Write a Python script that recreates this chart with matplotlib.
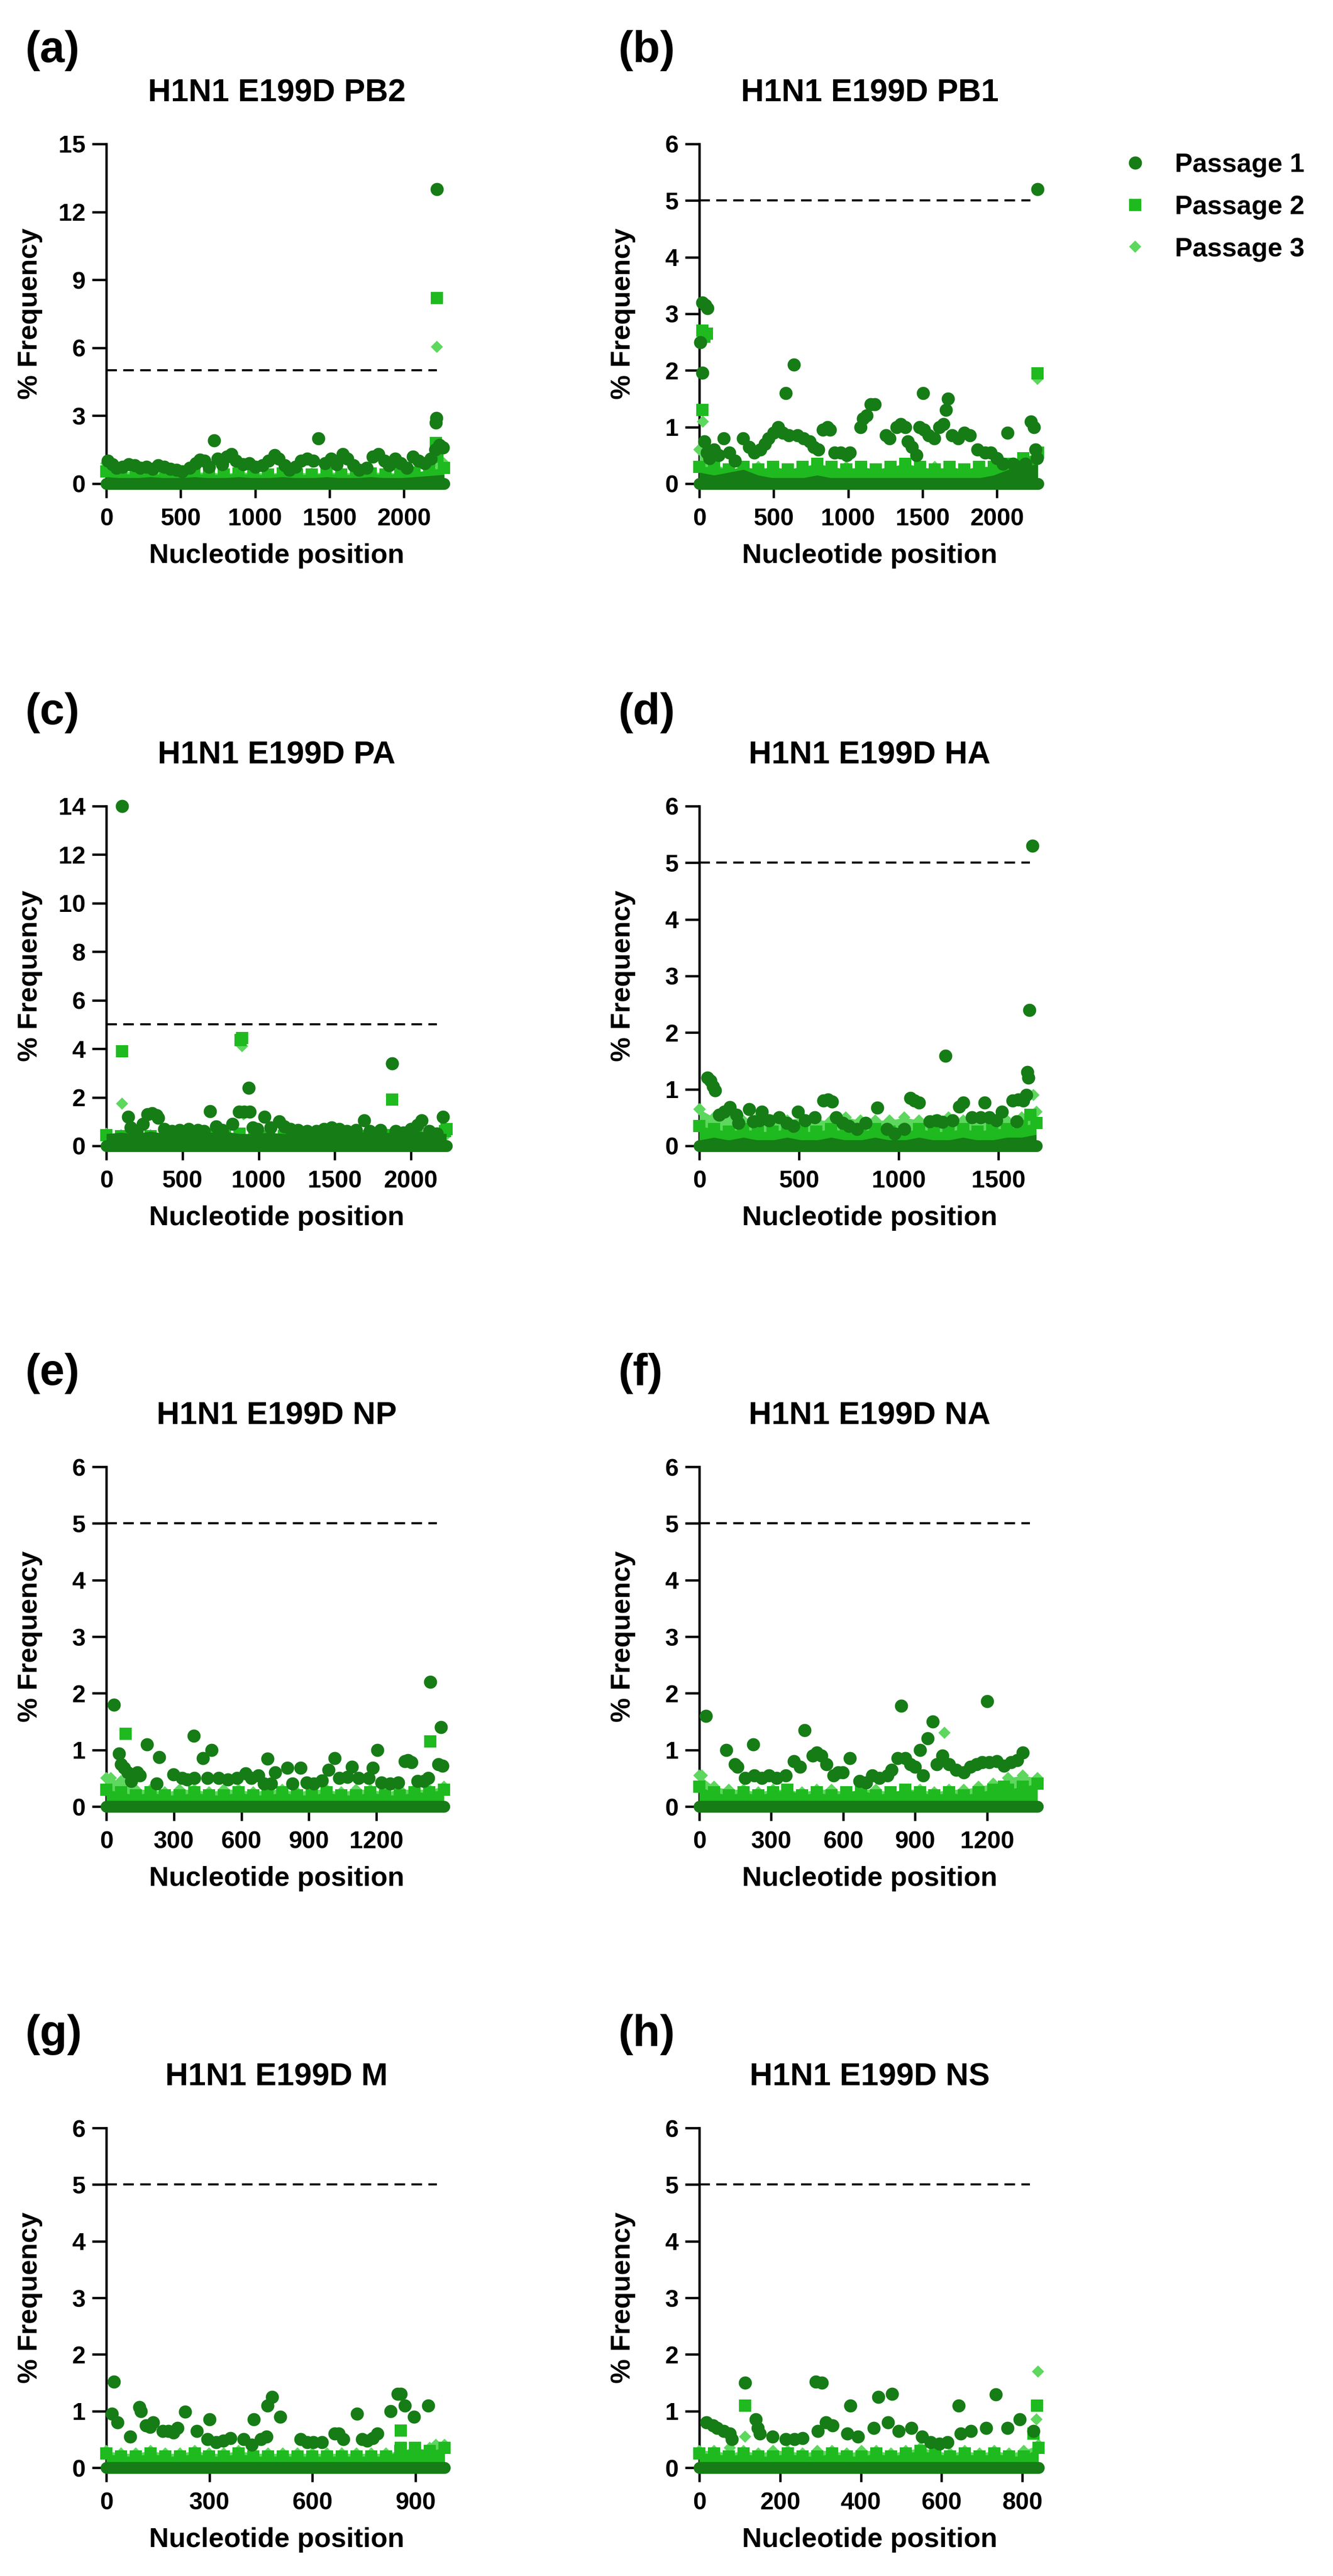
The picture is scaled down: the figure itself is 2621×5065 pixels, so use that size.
import matplotlib
matplotlib.use("Agg")
import matplotlib.pyplot as plt
from matplotlib.lines import Line2D
import numpy as np

plt.rcParams['font.family'] = ['Liberation Sans', 'DejaVu Sans']
plt.rcParams['font.weight'] = 'bold'

W, H, DPI = 2621, 5065, 300

# colours of the three passages
col1, col2, col3 = '#167c16', '#1fba1f', '#5dd75d'
labels = ['Passage 1', 'Passage 2', 'Passage 3']

genes = ['PB2', 'PB1', 'PA', 'HA', 'NP', 'NA', 'M', 'NS']
letters = ['(a)', '(b)', '(c)', '(d)', '(e)', '(f)', '(g)', '(h)']
x_max = [2290, 2290, 2237, 1709, 1514, 1421, 992, 844]
seg_len = [2270, 2275, 2232, 1690, 1500, 1410, 985, 840]
cut_end = [2222, 2225, 2170, 1658, 1469, 1378, 962, 819]
x_step = [500, 500, 500, 500, 300, 300, 300, 200]
x_last = [2000, 2000, 2000, 1500, 1200, 1200, 900, 800]
y_max = [15, 6, 14, 6, 6, 6, 6, 6]
y_step = [3, 1, 2, 1, 1, 1, 1, 1]
cutoff = 5

# passage 1 points above the dense band (position, % frequency)
pb2_p1 = [(10, 1.0), (40, 0.85), (70, 0.7), (110, 0.75), (150, 0.85), (190, 0.8), (230, 0.7), (270, 0.75),
          (310, 0.65), (350, 0.8), (390, 0.75), (430, 0.65), (470, 0.6), (510, 0.55), (560, 0.7), (600, 0.9),
          (630, 1.05), (660, 1.0), (690, 0.75), (723, 1.9), (750, 1.1), (780, 0.85), (810, 1.2), (840, 1.3),
          (870, 1.0), (920, 0.85), (960, 0.9), (1000, 0.75), (1050, 0.8), (1090, 1.0), (1130, 1.25), (1160, 1.1),
          (1200, 0.8), (1230, 0.6), (1270, 0.75), (1310, 1.0), (1350, 1.1), (1390, 1.0), (1426, 2.0), (1470, 0.9),
          (1510, 1.1), (1550, 0.85), (1590, 1.3), (1620, 1.1), (1660, 0.8), (1700, 0.6), (1750, 0.7), (1790, 1.2),
          (1830, 1.3), (1870, 1.0), (1900, 0.8), (1940, 1.1), (1980, 0.9), (2020, 0.7), (2060, 1.2), (2100, 1.0),
          (2140, 0.9), (2180, 1.1), (2210, 1.5), (2215, 2.7), (2218, 2.9), (2221, 13.0), (2240, 1.7), (2262, 1.6)]
pb1_p1 = [(6, 2.5), (20, 3.2), (40, 3.15), (55, 3.1), (20, 1.96), (34, 0.75), (50, 0.55), (70, 0.45), (100, 0.6),
          (130, 0.5), (164, 0.8), (200, 0.55), (240, 0.4), (293, 0.8), (336, 0.65), (370, 0.55), (410, 0.6),
          (440, 0.7), (465, 0.8), (500, 0.9), (530, 1.0), (560, 0.9), (580, 1.6), (600, 0.85), (637, 2.1),
          (660, 0.85), (700, 0.8), (740, 0.75), (770, 0.65), (800, 0.6), (830, 0.95), (860, 1.0), (880, 0.95),
          (910, 0.55), (950, 0.55), (990, 0.5), (1010, 0.55), (1082, 1.0), (1100, 1.15), (1125, 1.2), (1153, 1.4),
          (1180, 1.4), (1254, 0.85), (1280, 0.8), (1326, 1.0), (1355, 1.05), (1383, 1.0), (1400, 0.75),
          (1430, 0.65), (1460, 0.5), (1480, 1.0), (1504, 1.6), (1510, 0.95), (1540, 0.85), (1580, 0.8),
          (1613, 1.0), (1640, 1.05), (1656, 1.3), (1670, 1.5), (1700, 0.85), (1740, 0.8), (1780, 0.9),
          (1820, 0.85), (1871, 0.6), (1920, 0.55), (1960, 0.55), (2000, 0.45), (2040, 0.35), (2072, 0.9),
          (2110, 0.35), (2150, 0.3), (2190, 0.35), (2230, 1.1), (2250, 1.0), (2260, 0.6), (2268, 0.45), (2273, 5.2)]
pa_p1 = [(103, 14.0), (145, 1.2), (160, 0.75), (200, 0.6), (240, 0.9), (270, 1.3), (300, 1.35), (330, 1.25),
         (340, 1.15), (380, 0.7), (430, 0.6), (480, 0.65), (540, 0.7), (600, 0.65), (640, 0.6), (680, 1.43),
         (720, 0.8), (760, 0.65), (828, 0.9), (870, 1.4), (905, 1.4), (935, 2.39), (940, 1.4), (960, 0.75),
         (990, 0.7), (1038, 1.2), (1080, 0.75), (1135, 1.0), (1170, 0.8), (1210, 0.7), (1260, 0.65), (1320, 0.6),
         (1380, 0.6), (1430, 0.7), (1480, 0.75), (1530, 0.7), (1580, 0.6), (1640, 0.65), (1693, 1.05),
         (1730, 0.6), (1800, 0.65), (1875, 3.4), (1900, 0.6), (1950, 0.55), (2000, 0.7), (2042, 0.85),
         (2070, 1.05), (2120, 0.6), (2170, 0.5), (2209, 1.2)]
ha_p1 = [(40, 1.2), (55, 1.15), (68, 1.05), (79, 0.98), (100, 0.55), (125, 0.6), (153, 0.68), (185, 0.55),
         (196, 0.4), (250, 0.65), (270, 0.43), (300, 0.45), (313, 0.6), (350, 0.45), (400, 0.5), (440, 0.4),
         (473, 0.35), (494, 0.6), (530, 0.45), (580, 0.5), (622, 0.8), (645, 0.82), (665, 0.78), (686, 0.5),
         (720, 0.4), (750, 0.35), (790, 0.3), (835, 0.4), (893, 0.67), (940, 0.3), (980, 0.22), (1027, 0.3),
         (1059, 0.84), (1080, 0.8), (1102, 0.76), (1155, 0.43), (1190, 0.45), (1219, 0.42), (1234, 1.59),
         (1270, 0.45), (1304, 0.69), (1325, 0.76), (1368, 0.5), (1410, 0.5), (1432, 0.76), (1453, 0.5),
         (1490, 0.45), (1517, 0.6), (1570, 0.8), (1592, 0.43), (1600, 0.82), (1624, 0.8), (1641, 0.9),
         (1645, 1.3), (1650, 1.2), (1656, 2.4), (1671, 5.3)]
np_p1 = [(34, 1.8), (57, 0.93), (65, 0.75), (80, 0.68), (95, 0.6), (110, 0.45), (138, 0.6), (150, 0.55),
         (181, 1.1), (223, 0.4), (236, 0.87), (298, 0.57), (336, 0.5), (360, 0.48), (389, 1.25), (392, 0.5),
         (430, 0.85), (449, 0.5), (468, 1.0), (500, 0.5), (540, 0.48), (581, 0.5), (619, 0.58), (645, 0.5),
         (675, 0.55), (700, 0.4), (717, 0.84), (732, 0.4), (751, 0.6), (804, 0.68), (826, 0.4), (864, 0.68),
         (890, 0.42), (921, 0.4), (958, 0.46), (987, 0.65), (1015, 0.85), (1034, 0.5), (1070, 0.52),
         (1091, 0.7), (1120, 0.5), (1166, 0.5), (1185, 0.68), (1204, 1.0), (1223, 0.42), (1260, 0.4),
         (1298, 0.42), (1326, 0.8), (1340, 0.82), (1355, 0.78), (1383, 0.45), (1410, 0.45), (1430, 0.5),
         (1440, 2.2), (1476, 0.75), (1487, 1.4), (1494, 0.72)]
na_p1 = [(27, 1.6), (113, 1.0), (149, 0.75), (160, 0.7), (190, 0.5), (225, 1.1), (230, 0.55), (260, 0.5),
         (290, 0.55), (323, 0.5), (360, 0.55), (394, 0.8), (420, 0.7), (438, 1.35), (473, 0.9), (490, 0.95),
         (509, 0.9), (530, 0.75), (560, 0.55), (580, 0.6), (598, 0.6), (628, 0.85), (668, 0.45), (695, 0.42),
         (722, 0.55), (750, 0.5), (784, 0.55), (801, 0.65), (828, 0.85), (842, 1.78), (860, 0.85), (881, 0.75),
         (900, 0.7), (920, 1.0), (934, 0.55), (952, 1.2), (973, 1.5), (990, 0.75), (1014, 0.9), (1041, 0.75),
         (1070, 0.65), (1103, 0.6), (1130, 0.7), (1156, 0.75), (1180, 0.78), (1200, 1.86), (1209, 0.78),
         (1240, 0.8), (1270, 0.72), (1300, 0.78), (1325, 0.82), (1348, 0.95)]
m_p1 = [(16, 0.95), (22, 1.52), (32, 0.8), (69, 0.55), (96, 1.07), (100, 1.0), (115, 0.75), (128, 0.72),
        (136, 0.8), (164, 0.65), (180, 0.65), (195, 0.62), (208, 0.7), (229, 0.99), (263, 0.65), (294, 0.5),
        (300, 0.85), (320, 0.45), (340, 0.48), (362, 0.52), (400, 0.5), (424, 0.4), (430, 0.85), (450, 0.5),
        (467, 0.55), (470, 1.1), (482, 1.25), (507, 0.9), (566, 0.5), (585, 0.45), (603, 0.45), (628, 0.45),
        (665, 0.6), (677, 0.6), (690, 0.5), (730, 0.95), (745, 0.5), (760, 0.48), (776, 0.52), (789, 0.6),
        (828, 1.0), (849, 1.3), (857, 1.3), (869, 1.1), (896, 0.9), (937, 1.1)]
ns_p1 = [(18, 0.8), (34, 0.75), (44, 0.7), (60, 0.65), (76, 0.6), (80, 0.5), (113, 1.5), (140, 0.85),
         (145, 0.7), (150, 0.6), (182, 0.55), (214, 0.5), (235, 0.5), (256, 0.52), (288, 1.52), (303, 1.5),
         (293, 0.65), (314, 0.8), (330, 0.75), (367, 0.6), (374, 1.1), (393, 0.55), (432, 0.7), (443, 1.25),
         (467, 0.8), (478, 1.3), (494, 0.65), (525, 0.7), (552, 0.55), (573, 0.45), (595, 0.42), (615, 0.45),
         (642, 1.1), (647, 0.6), (673, 0.65), (710, 0.7), (735, 1.29), (763, 0.7), (793, 0.85), (827, 0.65)]

# passage 2 and passage 3 points above the band
pb2_p2 = [(2221, 8.2), (2215, 1.8), (2225, 1.2)]
pb2_p3 = [(2221, 6.05), (2218, 1.5), (2230, 0.9)]
pb1_p2 = [(20, 2.7), (35, 2.6), (50, 2.65), (20, 1.3), (2273, 1.95)]
pb1_p3 = [(10, 2.5), (25, 1.1), (2273, 1.85)]
pa_p2 = [(103, 3.9), (890, 4.45), (880, 4.35), (1875, 1.9), (2225, 0.6)]
pa_p3 = [(103, 1.75), (890, 4.1), (900, 1.3), (2225, 0.4)]
ha_p2 = [(1660, 0.55)]
ha_p3 = [(1677, 0.9), (2, 0.65)]
np_p2 = [(85, 1.28), (1440, 1.15)]
np_p3 = [(20, 0.5)]
na_p2 = [(1270, 0.35)]
na_p3 = [(1023, 1.3), (10, 0.55)]
m_p2 = [(857, 0.66), (857, 0.35)]
m_p3 = [(960, 0.4)]
ns_p2 = [(113, 1.1), (837, 1.1), (827, 0.6)]
ns_p3 = [(113, 0.55), (839, 1.7), (835, 0.85), (76, 0.35)]

# upper edge of the dense low-frequency band, sampled evenly along each segment
pb2_band1 = [0.3, 0.25, 0.25, 0.3, 0.25, 0.25, 0.3, 0.25, 0.25, 0.3, 0.25, 0.25, 0.3, 0.25, 0.25, 0.3, 0.25, 0.25, 0.3, 0.25, 0.25, 0.3, 0.35, 0.4]
pb2_band2 = [0.55, 0.45, 0.4, 0.45, 0.4, 0.4, 0.45, 0.4, 0.4, 0.45, 0.4, 0.4, 0.45, 0.4, 0.4, 0.45, 0.4, 0.4, 0.45, 0.4, 0.45, 0.5, 0.6, 0.7]
pb2_band3 = [0.9, 0.55, 0.5, 0.5, 0.5, 0.45, 0.5, 0.5, 0.45, 0.5, 0.5, 0.45, 0.5, 0.5, 0.45, 0.5, 0.5, 0.45, 0.5, 0.5, 0.45, 0.5, 0.6, 0.9]
pb1_band1 = [0.2, 0.15, 0.2, 0.25, 0.15, 0.1, 0.1, 0.1, 0.15, 0.1, 0.1, 0.1, 0.1, 0.1, 0.1, 0.1, 0.1, 0.1, 0.1, 0.1, 0.15, 0.25, 0.3, 0.35]
pb1_band2 = [0.3, 0.3, 0.25, 0.3, 0.25, 0.3, 0.25, 0.3, 0.35, 0.3, 0.25, 0.3, 0.25, 0.3, 0.35, 0.3, 0.25, 0.3, 0.25, 0.3, 0.3, 0.35, 0.45, 0.55]
pb1_band3 = [0.6, 0.35, 0.25, 0.25, 0.3, 0.25, 0.25, 0.3, 0.25, 0.25, 0.3, 0.25, 0.25, 0.3, 0.25, 0.25, 0.3, 0.25, 0.25, 0.3, 0.25, 0.3, 0.4, 0.6]
pa_band1 = [0.5, 0.55, 0.5, 0.6, 0.5, 0.55, 0.5, 0.55, 0.6, 0.5, 0.5, 0.55, 0.5, 0.5, 0.55, 0.5, 0.55, 0.6, 0.5, 0.55, 0.5, 0.6, 0.55, 0.5]
pa_band2 = [0.45, 0.4, 0.45, 0.4, 0.45, 0.4, 0.4, 0.45, 0.4, 0.5, 0.45, 0.4, 0.4, 0.45, 0.4, 0.4, 0.45, 0.4, 0.4, 0.45, 0.4, 0.45, 0.5, 0.7]
pa_band3 = [0.5, 0.45, 0.4, 0.45, 0.4, 0.4, 0.45, 0.4, 0.45, 0.4, 0.4, 0.45, 0.4, 0.4, 0.45, 0.4, 0.45, 0.4, 0.4, 0.45, 0.4, 0.45, 0.5, 0.6]
ha_band1 = [0.1, 0.15, 0.1, 0.15, 0.1, 0.1, 0.15, 0.1, 0.1, 0.15, 0.1, 0.1, 0.15, 0.1, 0.1, 0.15, 0.1, 0.1, 0.15, 0.1, 0.1, 0.15, 0.15, 0.2]
ha_band2 = [0.35, 0.3, 0.25, 0.3, 0.25, 0.25, 0.3, 0.25, 0.25, 0.3, 0.25, 0.25, 0.3, 0.25, 0.25, 0.3, 0.25, 0.25, 0.3, 0.25, 0.3, 0.3, 0.35, 0.4]
ha_band3 = [0.65, 0.5, 0.45, 0.45, 0.5, 0.45, 0.45, 0.5, 0.45, 0.45, 0.5, 0.45, 0.45, 0.45, 0.5, 0.45, 0.45, 0.5, 0.45, 0.45, 0.5, 0.45, 0.5, 0.6]
np_band1 = [0.08, 0.08, 0.05, 0.08, 0.05, 0.05, 0.08, 0.05, 0.05, 0.08, 0.05, 0.05, 0.08, 0.05, 0.05, 0.08, 0.05, 0.05, 0.08, 0.05, 0.05, 0.08, 0.08, 0.1]
np_band2 = [0.3, 0.25, 0.2, 0.25, 0.2, 0.2, 0.25, 0.2, 0.2, 0.25, 0.2, 0.2, 0.25, 0.2, 0.2, 0.25, 0.2, 0.2, 0.25, 0.2, 0.2, 0.25, 0.25, 0.3]
np_band3 = [0.5, 0.45, 0.3, 0.3, 0.25, 0.3, 0.3, 0.25, 0.3, 0.3, 0.25, 0.3, 0.3, 0.25, 0.3, 0.3, 0.25, 0.3, 0.3, 0.25, 0.3, 0.3, 0.3, 0.35]
na_band1 = [0.08, 0.05, 0.05, 0.08, 0.05, 0.05, 0.08, 0.05, 0.05, 0.08, 0.05, 0.05, 0.08, 0.05, 0.05, 0.08, 0.05, 0.05, 0.08, 0.05, 0.05, 0.08, 0.08, 0.1]
na_band2 = [0.35, 0.25, 0.2, 0.25, 0.2, 0.25, 0.3, 0.2, 0.25, 0.2, 0.25, 0.3, 0.2, 0.25, 0.3, 0.25, 0.2, 0.25, 0.2, 0.25, 0.3, 0.3, 0.35, 0.4]
na_band3 = [0.55, 0.35, 0.3, 0.3, 0.25, 0.3, 0.3, 0.25, 0.3, 0.3, 0.25, 0.3, 0.3, 0.25, 0.3, 0.3, 0.25, 0.3, 0.3, 0.35, 0.4, 0.5, 0.55, 0.5]
m_band1 = [0.05, 0.05, 0.05, 0.05, 0.05, 0.05, 0.05, 0.05, 0.05, 0.05, 0.05, 0.05, 0.05, 0.05, 0.05, 0.05, 0.05, 0.05, 0.05, 0.05, 0.05, 0.05, 0.08, 0.08]
m_band2 = [0.25, 0.2, 0.2, 0.25, 0.2, 0.2, 0.25, 0.2, 0.2, 0.25, 0.2, 0.2, 0.2, 0.2, 0.2, 0.2, 0.2, 0.2, 0.2, 0.2, 0.3, 0.35, 0.3, 0.35]
m_band3 = [0.3, 0.25, 0.25, 0.3, 0.25, 0.25, 0.3, 0.25, 0.25, 0.3, 0.25, 0.25, 0.25, 0.25, 0.25, 0.25, 0.25, 0.25, 0.25, 0.25, 0.3, 0.3, 0.35, 0.4]
ns_band1 = [0.05, 0.05, 0.05, 0.05, 0.05, 0.05, 0.05, 0.05, 0.05, 0.05, 0.05, 0.05, 0.05, 0.05, 0.05, 0.05, 0.05, 0.05, 0.05, 0.05, 0.05, 0.05, 0.08, 0.1]
ns_band2 = [0.25, 0.25, 0.2, 0.25, 0.2, 0.2, 0.25, 0.2, 0.2, 0.25, 0.2, 0.2, 0.25, 0.2, 0.25, 0.3, 0.25, 0.2, 0.25, 0.2, 0.25, 0.2, 0.2, 0.35]
ns_band3 = [0.3, 0.3, 0.25, 0.3, 0.25, 0.3, 0.3, 0.25, 0.3, 0.3, 0.25, 0.3, 0.3, 0.25, 0.3, 0.35, 0.3, 0.25, 0.3, 0.25, 0.3, 0.25, 0.3, 0.4]

p1_pts = [pb2_p1, pb1_p1, pa_p1, ha_p1, np_p1, na_p1, m_p1, ns_p1]
p2_pts = [pb2_p2, pb1_p2, pa_p2, ha_p2, np_p2, na_p2, m_p2, ns_p2]
p3_pts = [pb2_p3, pb1_p3, pa_p3, ha_p3, np_p3, na_p3, m_p3, ns_p3]
band1 = [pb2_band1, pb1_band1, pa_band1, ha_band1, np_band1, na_band1, m_band1, ns_band1]
band2 = [pb2_band2, pb1_band2, pa_band2, ha_band2, np_band2, na_band2, m_band2, ns_band2]
band3 = [pb2_band3, pb1_band3, pa_band3, ha_band3, np_band3, na_band3, m_band3, ns_band3]

# layout in pixels
col_left = [209, 1375]
row_top = [283, 1585, 2884, 4184]
ax_w, ax_h = 670, 668

fig = plt.figure(figsize=(W / DPI, H / DPI), dpi=DPI)

# colour, marker, size, zorder : passage 3, passage 2, passage 1
styles = [(col3, 'D', 4.0, 3.0), (col2, 's', 5.6, 3.1), (col1, 'o', 6.2, 3.2)]

for i, gene in enumerate(genes):
    r, c = divmod(i, 2)
    left, top = col_left[c], row_top[r]
    ax = fig.add_axes([left / W, 1 - (top + ax_h) / H, ax_w / W, ax_h / H])

    bx = np.linspace(0, seg_len[i], len(band1[i]))
    series = [(band3[i], p3_pts[i]), (band2[i], p2_pts[i]), (band1[i], p1_pts[i])]
    for k, ((band, pts), (col, mk, ms, z)) in enumerate(zip(series, styles)):
        ax.fill_between(bx, 0, band, color=col, lw=0, zorder=z, clip_on=False)
        if k < 2:
            ax.plot(bx, band, ls='none', marker=mk, ms=ms, color=col, mec='none', zorder=z, clip_on=False)
        px = [p[0] for p in pts]
        py = [p[1] for p in pts]
        ax.plot(px, py, ls='none', marker=mk, ms=ms, color=col, mec='none', zorder=z, clip_on=False)
    # passage 1 values sitting on zero along the whole segment
    ax.plot([bx[0], bx[-1]], [0, 0], color=col1, lw=5.6, solid_capstyle='round', zorder=3.2, clip_on=False)

    ax.plot([0, cut_end[i]], [cutoff, cutoff], color='black', lw=1.0, ls=(0, (5, 3)), zorder=2)

    ax.set_xlim(0, x_max[i])
    ax.set_ylim(0, y_max[i])
    ax.set_xticks(np.arange(0, x_last[i] + 1, x_step[i]))
    ax.set_yticks(np.arange(0, y_max[i] + 0.1, y_step[i]))
    for s in ['top', 'right']:
        ax.spines[s].set_visible(False)
    for s in ['left', 'bottom']:
        ax.spines[s].set_linewidth(1.1)
    ax.tick_params(axis='both', direction='out', length=6.8, width=1.1, labelsize=11.5)
    ax.tick_params(axis='x', pad=4.5)
    ax.tick_params(axis='y', pad=3)
    for lab in ax.get_xticklabels() + ax.get_yticklabels():
        lab.set_fontweight('bold')

    ax.set_title('H1N1 E199D ' + gene, fontsize=15, fontweight='bold', pad=20)
    ax.set_xlabel('Nucleotide position', fontsize=13, fontweight='bold', labelpad=6)
    ax.set_ylabel('% Frequency', fontsize=13, fontweight='bold')
    ax.yaxis.set_label_coords(-0.187, 0.5)

    fig.text((left - 159) / W, 1 - (top - 224) / H, letters[i], fontsize=21, fontweight='bold',
             ha='left', va='top')

handles = [Line2D([], [], ls='none', marker=mk, ms=ms, color=col, mec='none')
           for col, mk, ms, z in styles[::-1]]
fig.legend(handles, labels, loc='upper left', bbox_to_anchor=(2206 / W, 1 - 300 / H),
           frameon=False, borderpad=0, borderaxespad=0, handlelength=1.0, handletextpad=1.0,
           labelspacing=0.65, prop={'weight': 'bold', 'size': 12.5})

fig.savefig('out.png', dpi=DPI)
